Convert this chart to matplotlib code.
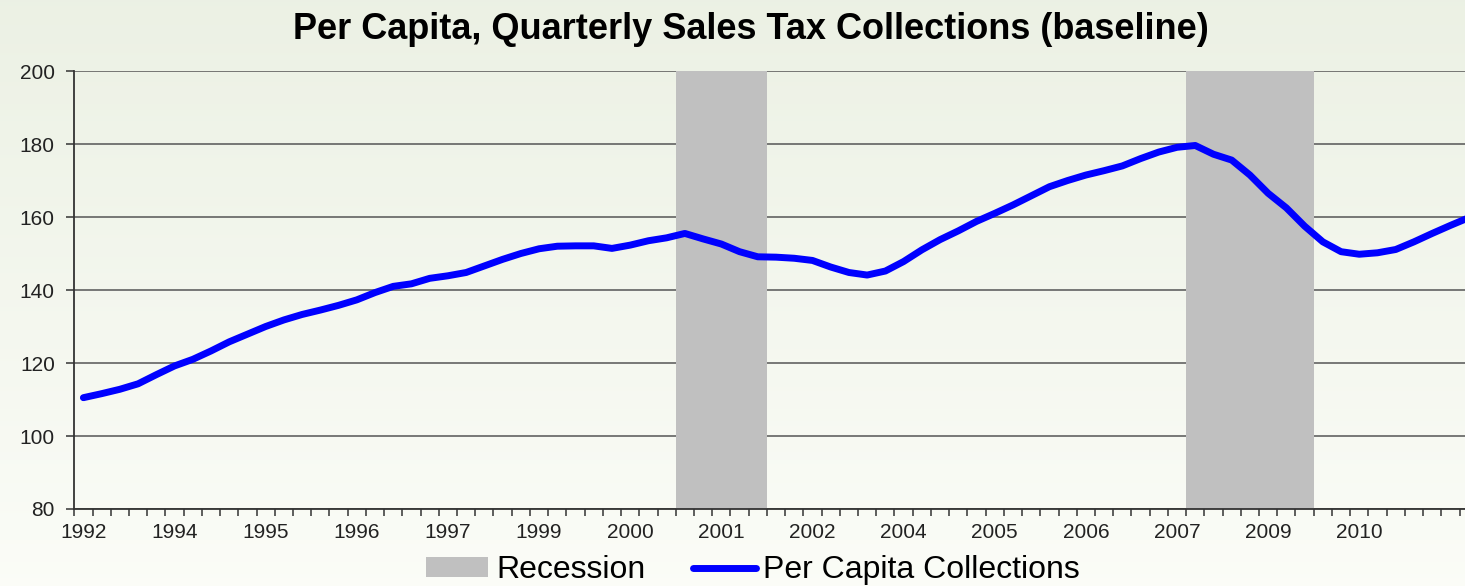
import matplotlib
matplotlib.use("Agg")
import matplotlib.pyplot as plt
import numpy as np

# quarterly per capita collections, starting at the first quarter shown
collections = [
    110.5, 111.6, 112.8, 114.3, 116.8, 119.2, 121.0, 123.3, 125.8, 127.9,
    130.0, 131.8, 133.3, 134.5, 135.8, 137.3, 139.3, 141.0, 141.7, 143.2,
    143.9, 144.8, 146.6, 148.4, 150.0, 151.3, 152.0, 152.1, 152.1, 151.4,
    152.3, 153.5, 154.3, 155.5, 154.0, 152.6, 150.5, 149.1, 149.0, 148.7,
    148.1, 146.3, 144.8, 144.1, 145.2, 147.8, 151.0, 153.8, 156.2, 158.8,
    161.0, 163.3, 165.8, 168.3, 170.0, 171.5, 172.7, 174.0, 176.0, 177.8,
    179.1, 179.6, 177.2, 175.6, 171.5, 166.5, 162.5, 157.5, 153.2, 150.5,
    149.8, 150.2, 151.1, 153.2, 155.5, 157.7, 159.8,
]

# recession quarters (1 = recession)
recession = [0] * 33 + [1] * 5 + [0] * 23 + [1] * 7 + [0] * 9

# category labels shown every fifth quarter
tick_years = ["1992", "1994", "1995", "1996", "1997", "1999", "2000", "2001",
              "2002", "2004", "2005", "2006", "2007", "2009", "2010"]

x = np.arange(len(collections))
rec_height = [200 if r else 0 for r in recession]

fig = plt.figure(figsize=(14.65, 5.86), dpi=100)
plt.rcParams["font.family"] = ["Liberation Sans", "DejaVu Sans"]

# soft background gradient
bg = fig.add_axes([0, 0, 1, 1], zorder=-10)
grad = np.linspace(0, 1, 256).reshape(-1, 1)
top = np.array([0.925, 0.945, 0.895])
bot = np.array([0.985, 0.99, 0.97])
img = top + (bot - top) * grad[..., None]
bg.imshow(img, aspect="auto", extent=[0, 1, 0, 1])
bg.axis("off")

ax = fig.add_axes([0.0507, 0.1314, 0.9493, 0.7474])
ax.set_facecolor("none")

bars = ax.bar(x[:len(rec_height)], rec_height, width=1.0, color="#c0c0c0",
              zorder=2, label="Recession")
line, = ax.plot(x, collections, color="#0000ff", lw=5, solid_capstyle="round",
                solid_joinstyle="round", zorder=3,
                label="Per Capita Collections")

ax.set_ylim(80, 200)
ax.set_xlim(-0.5, 75.8)
ax.set_yticks(range(80, 201, 20))
ax.yaxis.grid(True, color="#555555", lw=1.1, zorder=0)
ax.set_axisbelow(True)

ax.set_xticks(np.arange(0, 71, 5))
ax.set_xticklabels(tick_years)
ax.set_xticks(np.arange(-0.5, 76, 1), minor=True)
ax.tick_params(axis="x", which="major", length=0, pad=10, labelsize=15,
               labelcolor="#222222")
ax.tick_params(axis="x", which="minor", length=5, width=1.1, color="#333333",
               direction="out")
ax.tick_params(axis="y", length=6, width=1.1, color="#333333", pad=8,
               labelsize=15, labelcolor="#222222")

for s in ["top", "right"]:
    ax.spines[s].set_visible(False)
ax.spines["left"].set_color("#333333")
ax.spines["left"].set_linewidth(1.3)
ax.spines["bottom"].set_color("#333333")
ax.spines["bottom"].set_linewidth(1.3)

fig.text(0.5126, 0.950, "Per Capita, Quarterly Sales Tax Collections (baseline)",
         ha="center", va="center", fontsize=26, fontweight="bold")

fig.legend([bars, line], ["Recession", "Per Capita Collections"],
           loc="center", bbox_to_anchor=(0.514, 0.027), ncol=2,
           frameon=False, fontsize=23, handlelength=1.95, handleheight=0.55,
           handletextpad=0.25, columnspacing=1.5, borderpad=0.2)

fig.savefig("out.png", dpi=100)
